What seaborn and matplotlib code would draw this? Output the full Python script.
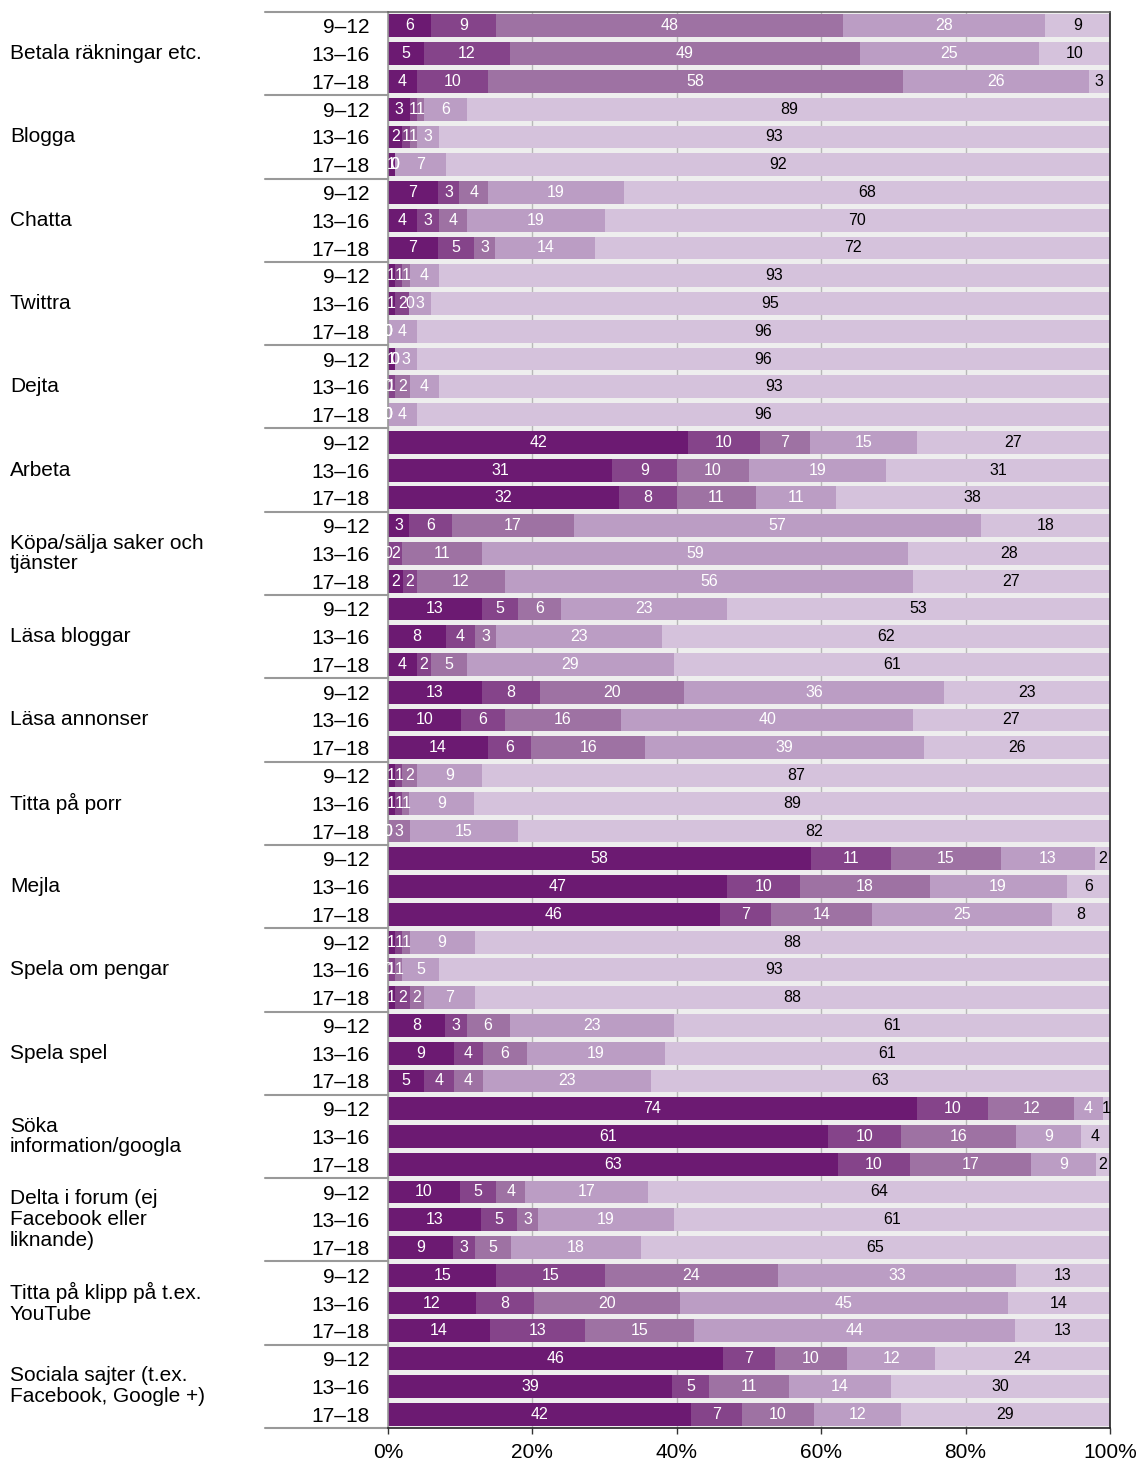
# %%
# Staplat liggande stapeldiagram: hur ofta barn/unga gör olika saker på internet

import numpy as np
import pandas as pd
import matplotlib.pyplot as plt
import matplotlib.transforms as mtransforms
import seaborn as sns

# %%
# Data (avlästa procentvärden, en rad per åldersgrupp)

grupper = ["Betala räkningar etc.", "Blogga", "Chatta", "Twittra", "Dejta",
           "Arbeta", "Köpa/sälja saker och\ntjänster", "Läsa bloggar",
           "Läsa annonser", "Titta på porr", "Mejla", "Spela om pengar",
           "Spela spel", "Söka\ninformation/googla",
           "Delta i forum (ej\nFacebook eller\nliknande)",
           "Titta på klipp på t.ex.\nYouTube",
           "Sociala sajter (t.ex.\nFacebook, Google +)"]
aldrar = ["9–12", "13–16", "17–18"]

# fem svarskategorier, 51 rader (17 grupper x 3 åldrar)
serie_1 = [6, 5, 4,   3, 2, 1,   7, 4, 7,   1, 1, 0,   1, 0, 0,
           42, 31, 32,   3, 0, 2,   13, 8, 4,   13, 10, 14,   1, 1, 0,
           58, 47, 46,   1, 0, 1,   8, 9, 5,   74, 61, 63,   10, 13, 9,
           15, 12, 14,   46, 39, 42]
serie_2 = [9, 12, 10,   1, 1, 0,   3, 3, 5,   1, 2, 0,   0, 1, 0,
           10, 9, 8,   6, 2, 2,   5, 4, 2,   8, 6, 6,   1, 1, 0,
           11, 10, 7,   1, 1, 2,   3, 4, 4,   10, 10, 10,   5, 5, 3,
           15, 8, 13,   7, 5, 7]
serie_3 = [48, 49, 58,   1, 1, 0,   4, 4, 3,   1, 0, 0,   0, 2, 0,
           7, 10, 11,   17, 11, 12,   6, 3, 5,   20, 16, 16,   2, 1, 3,
           15, 18, 14,   1, 1, 2,   6, 6, 4,   12, 16, 17,   4, 3, 5,
           24, 20, 15,   10, 11, 10]
serie_4 = [28, 25, 26,   6, 3, 7,   19, 19, 14,   4, 3, 4,   3, 4, 4,
           15, 19, 11,   57, 59, 56,   23, 23, 29,   36, 40, 39,   9, 9, 15,
           13, 19, 25,   9, 5, 7,   23, 19, 23,   4, 9, 9,   17, 19, 18,
           33, 45, 44,   12, 14, 12]
serie_5 = [9, 10, 3,   89, 93, 92,   68, 70, 72,   93, 95, 96,   96, 93, 96,
           27, 31, 38,   18, 28, 27,   53, 62, 61,   23, 27, 26,   87, 89, 82,
           2, 6, 8,   88, 93, 88,   61, 61, 63,   1, 4, 2,   64, 61, 65,
           13, 14, 13,   24, 30, 29]

farger = ["#6c1a72", "#85448a", "#9e72a3", "#bb9dc4", "#d5c2dc"]

# %%
# Bygg tabell och kumulativa summor (normerade till 100 %)

rader = [f"{g}|{a}" for g in grupper for a in aldrar]
varden = np.array([serie_1, serie_2, serie_3, serie_4, serie_5], dtype=float).T
andel = varden / varden.sum(axis=1, keepdims=True) * 100
kum = andel.cumsum(axis=1)

df = pd.DataFrame({"rad": rader})
for i in range(5):
    df[f"kum{i}"] = kum[:, i]

# %%
sns.set_style("white")
plt.rcParams['font.family'] = ['Liberation Sans', 'DejaVu Sans']
plt.rcParams['text.color'] = 'black'
plt.rcParams['xtick.color'] = 'black'
plt.rcParams['ytick.color'] = 'black'

fig, ax = plt.subplots(figsize=(11.4, 14.61), dpi=100)
fig.subplots_adjust(left=388 / 1140, right=1110 / 1140,
                    top=1 - 12 / 1461, bottom=1 - 1428 / 1461)
ax.set_facecolor("#eeeeee")

# rita från längsta kumulativa stapeln och nedåt
for i in reversed(range(5)):
    sns.barplot(data=df, x=f"kum{i}", y="rad", orient="h", order=rader,
                color=farger[i], saturation=1, width=0.82, linewidth=0,
                ax=ax)

# värdeetiketter
for r in range(len(rader)):
    for i in range(5):
        start = kum[r, i - 1] if i > 0 else 0
        mitt = start + andel[r, i] / 2
        ax.text(mitt, r, f"{int(varden[r, i])}", ha="center", va="center",
                fontsize=11.5, color="white" if i < 4 else "black")

ax.set_xlim(0, 100)
ax.set_ylim(len(rader) - 0.5, -0.5)
ax.set_xticks([0, 20, 40, 60, 80, 100])
ax.set_xticklabels([f"{t}%" for t in [0, 20, 40, 60, 80, 100]])
ax.set_yticks(range(len(rader)))
ax.set_yticklabels(aldrar * len(grupper))
ax.set_xlabel("")
ax.set_ylabel("")

ax.set_axisbelow(True)
ax.xaxis.grid(True, color="#b8b8b8", lw=1)
ax.yaxis.grid(False)

ax.tick_params(axis="x", length=4, width=1, color="#333333", labelsize=15,
               pad=7, bottom=True, labelcolor="black")
ax.tick_params(axis="y", length=0, labelsize=15, pad=13, labelcolor="black")

ax.spines["left"].set_color("#999999")
ax.spines["top"].set_color("#666666")
ax.spines["right"].set_color("#222222")
ax.spines["bottom"].set_color("#222222")
for s in ax.spines.values():
    s.set_linewidth(1.2)

# avgränsare mellan grupper i etikettområdet
trans = mtransforms.blended_transform_factory(ax.transAxes, ax.transData)
for k in range(len(grupper) + 1):
    y = 3 * k - 0.5
    ax.plot([-123 / 722, 0], [y, y], transform=trans, color="#999999",
            lw=1.5, clip_on=False)

# gruppnamn
trans_fig = mtransforms.blended_transform_factory(fig.transFigure, ax.transData)
for g, namn in enumerate(grupper):
    ax.text(10 / 1140, 3 * g + 1, namn, transform=trans_fig, ha="left",
            va="center", fontsize=15, linespacing=1.12, color="black")

plt.savefig("out.png", dpi=100)
